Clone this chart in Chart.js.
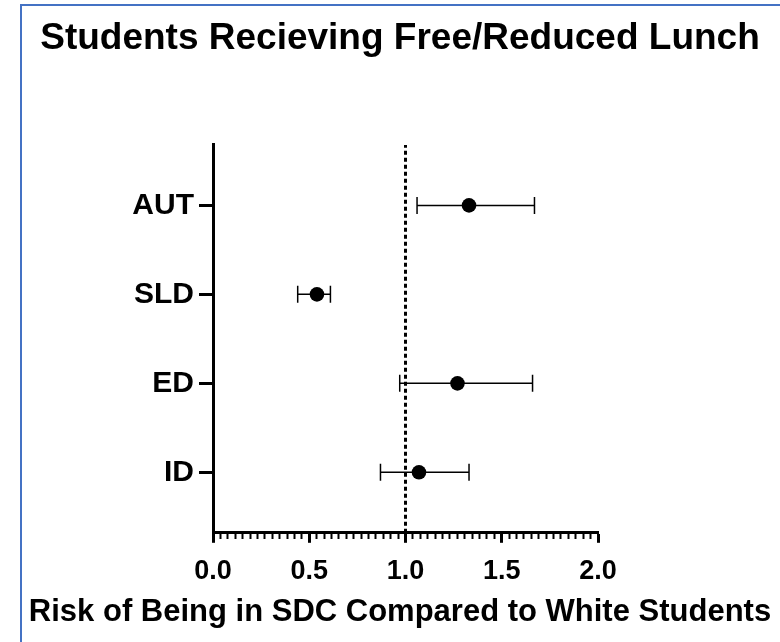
<!DOCTYPE html>
<html><head><meta charset="utf-8">
<script src="https://cdn.jsdelivr.net/npm/chart.js@4"></script>
<style>
html,body{margin:0;padding:0;background:#fff;overflow:hidden}
#wrap{position:relative;width:780px;height:642px}
#frame{position:absolute;left:20px;top:4px;width:800px;height:700px;border-left:2px solid #4472C4;border-top:2px solid #4472C4;box-sizing:border-box;pointer-events:none}
canvas{position:absolute;left:0;top:0}
</style></head><body>
<div id="wrap"><canvas id="c" width="780" height="642"></canvas><div id="frame"></div></div>
<script>
const categories = ['AUT', 'SLD', 'ED', 'ID'];
const categoryPositions = [4, 3, 2, 1];
const riskRatio = [1.33, 0.54, 1.27, 1.07];
const lowerCI = [1.06, 0.44, 0.97, 0.87];
const upperCI = [1.67, 0.61, 1.66, 1.33];
const xTickLabels = [0.0, 0.5, 1.0, 1.5, 2.0];
const referenceValue = 1.0;
const yRange = [0.32, 4.68];
const xRange = [0, 2];
const minorPerMajor = 13;

const FONT = "'Liberation Sans', Arial, Helvetica, sans-serif";
const isMajor = v => xTickLabels.some(t => Math.abs(t - v) < 1e-6);

const datasets = [];
datasets.push({
  label: 'Risk ratio',
  data: categoryPositions.map((p, i) => ({x: riskRatio[i], y: p})),
  pointRadius: 7.3,
  pointHoverRadius: 7.3,
  pointBackgroundColor: '#000',
  pointBorderColor: '#000',
  pointBorderWidth: 0,
  showLine: false,
  order: 0
});
categoryPositions.forEach((p, i) => {
  datasets.push({
    label: 'CI ' + categories[i],
    data: [{x: lowerCI[i], y: p}, {x: upperCI[i], y: p}],
    showLine: true,
    borderColor: '#000',
    borderWidth: 1.5,
    pointStyle: 'line',
    rotation: 90,
    pointRadius: 8.5,
    pointHoverRadius: 8.5,
    pointBorderColor: '#000',
    pointBorderWidth: 1.5,
    order: 1
  });
});
datasets.push({
  label: 'Reference',
  data: [{x: referenceValue, y: yRange[0]}, {x: referenceValue, y: yRange[1]}],
  showLine: true,
  borderColor: '#000',
  borderWidth: 3,
  borderDash: [4, 3],
  pointRadius: 0,
  order: 2
});

new Chart(document.getElementById('c'), {
  type: 'scatter',
  data: {datasets},
  options: {
    responsive: false,
    animation: false,
    devicePixelRatio: 1,
    layout: {padding: {left: 20, right: 0, top: 0, bottom: 11}},
    plugins: {
      legend: {display: false},
      tooltip: {enabled: false},
      title: {
        display: true,
        text: 'Students Recieving Free/Reduced Lunch',
        color: '#000',
        font: {family: FONT, size: 37, weight: 'bold', lineHeight: 1.2},
        padding: {top: 17, bottom: 83.5}
      },
      subtitle: {
        display: true,
        position: 'bottom',
        text: 'Risk of Being in SDC Compared to White Students',
        color: '#000',
        font: {family: FONT, size: 31, weight: 'bold', lineHeight: 1.2},
        padding: {top: 0, bottom: 0}
      }
    },
    scales: {
      x: {
        type: 'linear',
        position: 'bottom',
        min: xRange[0],
        max: xRange[1],
        afterBuildTicks: s => {
          const n = minorPerMajor * (xTickLabels.length - 1);
          const step = (xRange[1] - xRange[0]) / n;
          const t = [];
          for (let i = 0; i <= n; i++) t.push({value: xRange[0] + i * step});
          s.ticks = t;
        },
        afterFit: s => { s.height = 61; },
        ticks: {
          autoSkip: false,
          maxRotation: 0,
          minRotation: 0,
          padding: 13,
          color: '#000',
          font: {family: FONT, size: 27, weight: 'bold'},
          callback: v => isMajor(v) ? xTickLabels.find(t => Math.abs(t - v) < 1e-6).toFixed(1) : ''
        },
        grid: {
          drawOnChartArea: false,
          drawTicks: true,
          tickLength: 10,
          tickColor: '#000',
          tickWidth: c => (c.tick && isMajor(c.tick.value)) ? 3 : 2,
          tickBorderDash: c => (c.tick && isMajor(c.tick.value)) ? [] : [5, 50]
        },
        border: {display: true, color: '#000', width: 3}
      },
      y: {
        type: 'linear',
        position: 'left',
        min: yRange[0],
        max: yRange[1],
        afterBuildTicks: s => { s.ticks = categoryPositions.map(v => ({value: v})); },
        afterFit: s => { s.width = 193; },
        ticks: {
          autoSkip: false,
          padding: 5,
          color: '#000',
          font: {family: FONT, size: 30, weight: 'bold'},
          callback: v => categories[categoryPositions.indexOf(v)]
        },
        grid: {
          drawOnChartArea: false,
          drawTicks: true,
          tickLength: 14,
          tickWidth: 3,
          tickColor: '#000'
        },
        border: {display: true, color: '#000', width: 3}
      },
      yRight: {
        type: 'linear',
        position: 'right',
        display: true,
        min: 0,
        max: 1,
        afterFit: s => { s.width = 182; },
        ticks: {display: false},
        grid: {display: false, drawTicks: false},
        border: {display: false}
      }
    }
  }
});
</script>
</body></html>
